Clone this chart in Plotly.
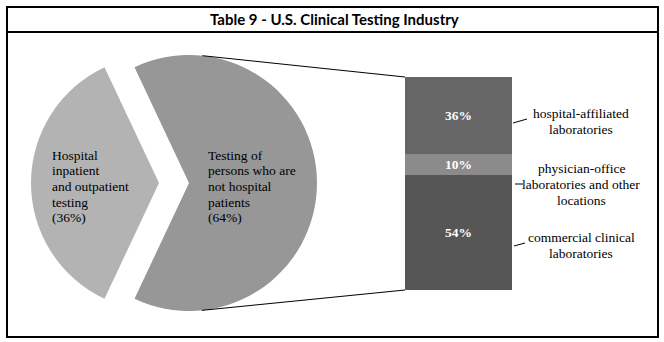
import math
import plotly.graph_objects as go

W, H = 664, 342

# ---- data ----
title_text = "Table 9 - U.S. Clinical Testing Industry"
pie_names = ["Hospital inpatient and outpatient testing",
             "Testing of persons who are not hospital patients"]
pie_values = [36, 64]
pie_text_lines = [["Hospital", "inpatient", "and outpatient", "testing", "(36%)"],
                  ["Testing of", "persons who are", "not hospital", "patients", "(64%)"]]
pie_colors = ["#b3b3b3", "#979797"]

# stacked bar, bottom -> top
bar_names = ["commercial clinical laboratories",
             "physician-office laboratories and other locations",
             "hospital-affiliated laboratories"]
bar_values = [54, 10, 36]
bar_text = ["54%", "10%", "36%"]
bar_label_lines = [["commercial clinical", "laboratories"],
                   ["physician-office", "laboratories and other", "locations"],
                   ["hospital-affiliated", "laboratories"]]
bar_colors = ["#565656", "#8b8b8b", "#666666"]

# ---- layout geometry (pixels) ----
def px(x):
    return x / W

def py(y):
    return 1 - y / H

cx, cy, r, pull_px = 174, 183, 128, 15
pull = pull_px / r
half = r * (1 + pull)
bar_l, bar_r, bar_t, bar_b = 405, 512, 77, 290

serif = "Liberation Serif, Times New Roman, serif"

fig = go.Figure()

# first slice centred on the left (compass 270 deg)
first_span = 360 * pie_values[0] / sum(pie_values)
fig.add_trace(go.Pie(
    values=pie_values, labels=pie_names, sort=False,
    direction="counterclockwise",
    rotation=270 - first_span / 2 - 360,
    pull=[pull, pull],
    marker=dict(colors=pie_colors, line=dict(width=0)),
    textinfo="none", hoverinfo="skip", showlegend=False,
    domain=dict(x=[px(cx - half), px(cx + half)], y=[py(cy + half), py(cy - half)]),
))

for name, v, t, c in zip(bar_names, bar_values, bar_text, bar_colors):
    fig.add_trace(go.Bar(
        x=[0], y=[v], name=name, width=[1], marker=dict(color=c, line=dict(width=0)),
        text=[t], textposition="inside", insidetextanchor="middle",
        textfont=dict(family=serif, size=13.5, color="white", weight="bold"),
        hoverinfo="skip", showlegend=False,
    ))

annotations = []
# title
annotations.append(dict(x=px(334), y=py(19.5), xref="paper", yref="paper",
                        text="<b>" + title_text + "</b>", showarrow=False,
                        font=dict(family="Lato, Carlito, sans-serif", size=15, color="black"),
                        xanchor="center", yanchor="middle"))

# pie labels
pie_text_x = [50, 206]
for lines, x0 in zip(pie_text_lines, pie_text_x):
    for i, ln in enumerate(lines):
        annotations.append(dict(x=px(x0), y=py(155 + i * 15.7), xref="paper", yref="paper",
                                text=ln, showarrow=False, xanchor="left", yanchor="middle",
                                font=dict(family=serif, size=13.5, color="black")))

# bar labels (bottom -> top order matching data)
label_first_y = [237, 168, 113]
for lines, y0 in zip(bar_label_lines, label_first_y):
    for i, ln in enumerate(lines):
        annotations.append(dict(x=px(581), y=py(y0 + i * 16), xref="paper", yref="paper",
                                text=ln, showarrow=False, xanchor="center", yanchor="middle",
                                font=dict(family=serif, size=13.5, color="black")))

shapes = []
# outer frame and title separator
shapes.append(dict(type="rect", xref="paper", yref="paper", x0=px(7), x1=px(658),
                   y0=py(337), y1=py(7), line=dict(color="black", width=2)))
shapes.append(dict(type="line", xref="paper", yref="paper", x0=px(7), x1=px(658),
                   y0=py(32), y1=py(32), line=dict(color="black", width=2)))

# connectors: tangent from bar corners to the pulled right slice
ccx = cx + pull_px
def tangent(P, upper):
    dx, dy = P[0] - ccx, P[1] - cy
    d = math.hypot(dx, dy)
    a = math.atan2(dy, dx)
    b = math.acos(r / d)
    ang = a - b if upper else a + b
    return ccx + r * math.cos(ang), cy + r * math.sin(ang)

for P, upper in [((bar_l, bar_t), True), ((bar_l, bar_b), False)]:
    T = tangent(P, upper)
    shapes.append(dict(type="line", xref="paper", yref="paper",
                       x0=px(T[0]), y0=py(T[1]), x1=px(P[0]), y1=py(P[1]),
                       line=dict(color="black", width=1)))

# leader lines to bar labels
leaders = [((514, 246), (525, 243)), ((515, 184), (523, 184)), ((513, 123), (527, 119))]
for (a, b) in leaders:
    shapes.append(dict(type="line", xref="paper", yref="paper",
                       x0=px(a[0]), y0=py(a[1]), x1=px(b[0]), y1=py(b[1]),
                       line=dict(color="black", width=1)))

fig.update_layout(
    width=W, height=H, margin=dict(l=0, r=0, t=0, b=0),
    paper_bgcolor="white", plot_bgcolor="rgba(0,0,0,0)",
    barmode="stack", bargap=0,
    xaxis=dict(domain=[px(bar_l), px(bar_r)], range=[-0.5, 0.5], visible=False, fixedrange=True),
    yaxis=dict(domain=[py(bar_b), py(bar_t)], range=[0, sum(bar_values)], visible=False, fixedrange=True),
    annotations=annotations, shapes=shapes,
    uniformtext=dict(mode=False),
)

fig.write_html("out.html")
